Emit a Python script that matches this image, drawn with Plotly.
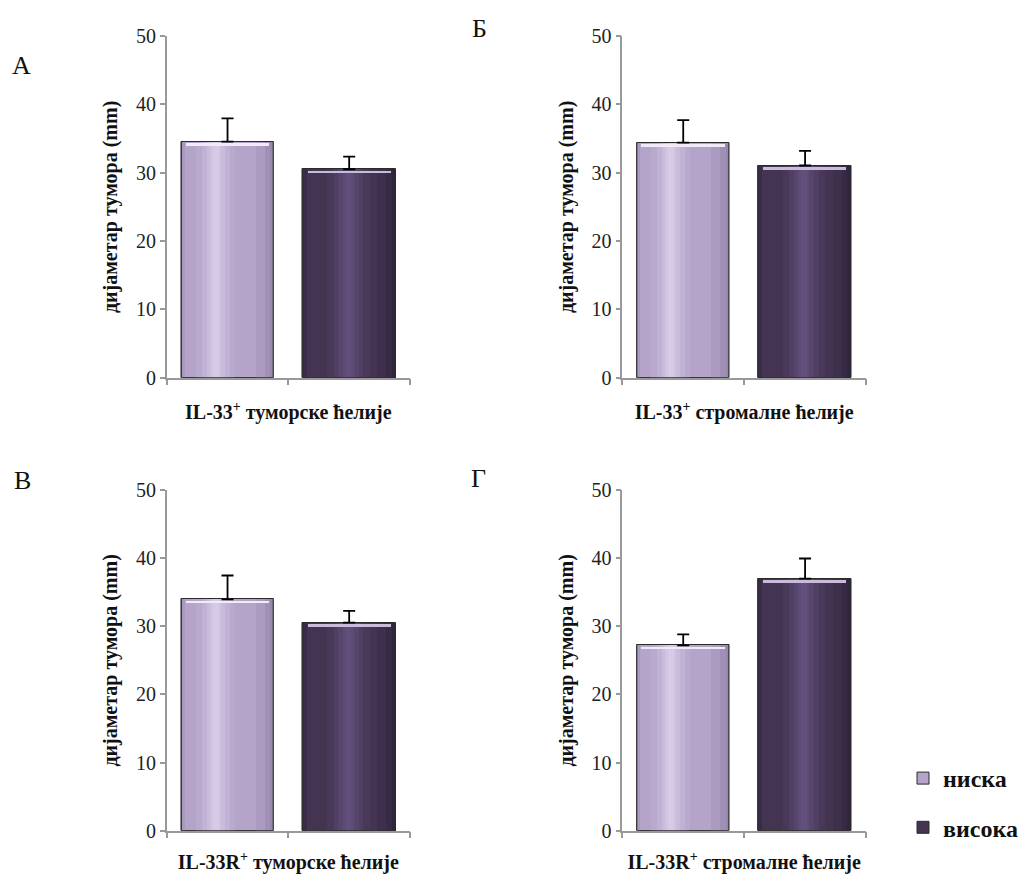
import plotly.graph_objects as go

# ---------------- data ----------------
groups = ["ниска", "висока"]
panel_letters = ["А", "Б", "В", "Г"]
x_titles = [
    "IL-33<sup>+</sup> туморске ћелије",
    "IL-33<sup>+</sup> стромалне ћелије",
    "IL-33R<sup>+</sup> туморске ћелије",
    "IL-33R<sup>+</sup> стромалне ћелије",
]
y_title = "дијаметар тумора (mm)"
means_A = [34.55, 30.5]
errs_A = [3.4, 1.85]
means_B = [34.4, 31.05]
errs_B = [3.3, 2.15]
means_C = [33.95, 30.55]
errs_C = [3.5, 1.7]
means_D = [27.2, 37.0]
errs_D = [1.6, 2.95]
y_ticks = [0, 10, 20, 30, 40, 50]

means = [means_A, means_B, means_C, means_D]
errs = [errs_A, errs_B, errs_C, errs_D]

# ---------------- style ----------------
SERIF = "Liberation Serif"
AXIS_GRAY = "#999999"
BAR_W = 0.76
base_colors = ["#b4a4c9", "#433452"]
bevel_colors = ["#f1ebf8", "#c9bbdc"]
# (left fraction, right fraction, colour) bands to imitate the glossy gradient
bands = [
    [(0.00, 0.04, "#a999be"), (0.16, 0.58, "#b9aacd"), (0.22, 0.52, "#c0b2d4"),
     (0.27, 0.47, "#c8bbdb"), (0.31, 0.43, "#d0c4e1"), (0.34, 0.40, "#d6cbe6"),
     (0.80, 1.00, "#ab9bc0"), (0.90, 1.00, "#a190b6"), (0.96, 1.00, "#9888ad")],
    [(0.00, 0.04, "#3a2c48"), (0.26, 0.72, "#483958"), (0.33, 0.65, "#503f62"),
     (0.38, 0.60, "#57466c"), (0.43, 0.55, "#5e4b77"), (0.46, 0.52, "#624f7c"),
     (0.80, 1.00, "#3e304d"), (0.90, 1.00, "#372a45"), (0.96, 1.00, "#31253e")],
]

# page has an 8px body margin, so the figure is 1010x866 offset by (8, 8)
W, H, OFF = 1010, 866, 8


def px_x(X):
    return (X - OFF) / W


def px_y(Y):
    return 1 - (Y - OFF) / H


x_domains = [[px_x(166.7), px_x(410)], [px_x(622.3), px_x(866)],
             [px_x(166.7), px_x(410)], [px_x(622.3), px_x(866)]]
y_domains = [[px_y(377.7), px_y(36)], [px_y(377.7), px_y(36)],
             [px_y(830.7), px_y(490)], [px_y(830.7), px_y(490)]]
letter_pos = [(21, 65), (479, 28), (22, 480), (478, 478)]

fig = go.Figure()
xs = [0, 1]

for p in range(4):
    suffix = "" if p == 0 else str(p + 1)
    xa, ya = "x" + suffix, "y" + suffix
    for g in range(2):
        v = means[p][g]
        # base bar (legend swatch)
        fig.add_trace(go.Bar(
            x=[xs[g]], y=[v], width=BAR_W, xaxis=xa, yaxis=ya,
            marker=dict(color=base_colors[g], line=dict(color="#2b2b2b", width=1)),
            name=groups[g], legendgroup=groups[g], showlegend=(p == 0),
            hoverinfo="skip",
        ))
        for (f0, f1, col) in bands[g]:
            fig.add_trace(go.Bar(
                x=[xs[g]], y=[v], width=BAR_W * (f1 - f0),
                offset=-BAR_W / 2 + BAR_W * f0, xaxis=xa, yaxis=ya,
                marker=dict(color=col, line=dict(width=0)),
                showlegend=False, hoverinfo="skip",
            ))
        # bevel highlight just under the top edge
        fig.add_trace(go.Bar(
            x=[xs[g]], y=[0.35], base=[v - 0.6], width=BAR_W * 0.9,
            xaxis=xa, yaxis=ya,
            marker=dict(color=bevel_colors[g], line=dict(width=0)),
            showlegend=False, hoverinfo="skip",
        ))
        # outline + error bar on top
        fig.add_trace(go.Bar(
            x=[xs[g]], y=[v], width=BAR_W, xaxis=xa, yaxis=ya,
            marker=dict(color="rgba(0,0,0,0)", line=dict(color="#2b2b2b", width=1)),
            error_y=dict(type="data", array=[errs[p][g]], arrayminus=[0],
                         symmetric=False, color="#000000", thickness=1.8, width=6),
            showlegend=False, name=groups[g],
            hovertemplate="%{y:.1f}<extra>" + groups[g] + "</extra>",
        ))

layout = dict(
    width=W, height=H,
    margin=dict(l=0, r=0, t=0, b=0, autoexpand=False),
    paper_bgcolor="white", plot_bgcolor="white",
    barmode="overlay", bargap=0,
    showlegend=True,
    legend=dict(x=px_x(903), y=px_y(756), xanchor="left", yanchor="top",
                font=dict(family=SERIF, size=24, color="#111111", weight="bold"),
                tracegroupgap=15, bgcolor="rgba(0,0,0,0)", itemwidth=30,
                traceorder="grouped"),
    annotations=[],
)

for p in range(4):
    suffix = "" if p == 0 else str(p + 1)
    layout["xaxis" + suffix] = dict(
        domain=x_domains[p], anchor="y" + suffix, range=[-0.5, 1.5],
        tickmode="array", tickvals=[-0.5, 0.5, 1.5], showticklabels=False,
        ticks="outside", ticklen=6, tickwidth=1.5, tickcolor=AXIS_GRAY,
        showline=True, linecolor=AXIS_GRAY, linewidth=1.5,
        showgrid=False, zeroline=False, fixedrange=True, automargin=False,
        title=dict(text="<b>" + x_titles[p] + "</b>", standoff=21,
                   font=dict(family=SERIF, size=20, color="#111111")),
    )
    layout["yaxis" + suffix] = dict(
        domain=y_domains[p], anchor="x" + suffix, range=[0, 50],
        tickmode="array", tickvals=y_ticks,
        ticks="outside", ticklen=5, tickwidth=1.5, tickcolor=AXIS_GRAY,
        showline=True, linecolor=AXIS_GRAY, linewidth=1.5,
        showgrid=False, zeroline=False, fixedrange=True, automargin=False,
        tickfont=dict(family=SERIF, size=20, color="#222222"),
        title=dict(text="<b>" + y_title + "</b>", standoff=13,
                   font=dict(family=SERIF, size=20, color="#111111")),
    )
    lx, ly = letter_pos[p]
    layout["annotations"].append(dict(
        text=panel_letters[p], xref="paper", yref="paper",
        x=px_x(lx), y=px_y(ly), xanchor="center", yanchor="middle",
        showarrow=False, font=dict(family=SERIF, size=26, color="#111111"),
    ))

fig.update_layout(**layout)
fig.write_html("out.html")
